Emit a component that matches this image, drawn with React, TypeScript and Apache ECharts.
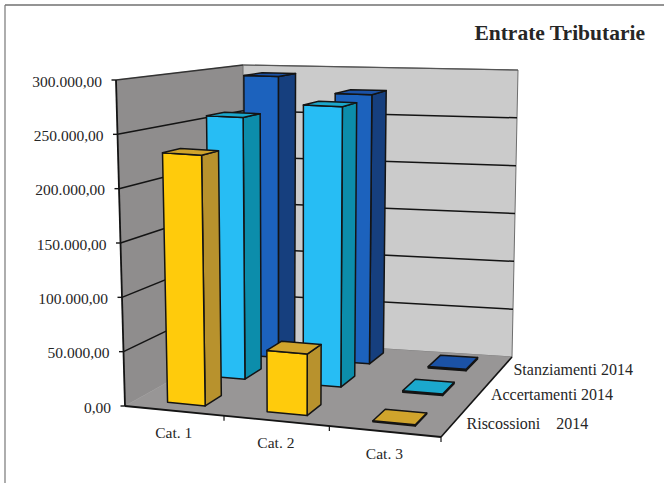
import React, { useEffect, useRef } from "react";
import * as echarts from "echarts";

const categories = ["Cat. 1", "Cat. 2", "Cat. 3"];
const tickValues = [0, 50000, 100000, 150000, 200000, 250000, 300000];
const tickLabels = ["0,00", "50.000,00", "100.000,00", "150.000,00", "200.000,00", "250.000,00", "300.000,00"];
const stanziamentiName = "Stanziamenti 2014";
const accertamentiName = "Accertamenti 2014";
const riscossioniName = "Riscossioni\u00A0\u00A0\u00A0\u00A02014";
const stanziamenti = [293000, 277000, 1500];
const accertamenti = [258500, 273500, 1500];
const riscossioni = [232500, 56500, 1000];
const title = "Entrate Tributarie";

type Pt = [number, number];
const A: Pt = [125, 406], B: Pt = [441, 437], C: Pt = [243, 340], D: Pt = [512, 357];
const E: Pt = [116, 80], H: Pt = [449, 100], F: Pt = [243, 65], G: Pt = [518, 70];
const lerp = (a: Pt, b: Pt, t: number): Pt => [a[0] + (b[0] - a[0]) * t, a[1] + (b[1] - a[1]) * t];
const warp = (u: number) => u + 0.09 * u * (u - 1);
const P = (u0: number, y: number, v: number): Pt => {
  const u = warp(u0);
  const front = lerp(lerp(A, B, u), lerp(E, H, u), y);
  const back = lerp(lerp(C, D, u), lerp(F, G, u), y);
  return lerp(front, back, v);
};

const FONT = "'Liberation Serif', 'Times New Roman', serif";
const INK = "#141414";
const TXT = "#262626";
const poly = (points: Pt[], fill: string, stroke = INK, lineWidth = 1.5) => ({
  type: "polygon",
  shape: { points },
  style: { fill, stroke, lineWidth, lineJoin: "round" },
});
const seg = (a: Pt, b: Pt, stroke = INK, lineWidth = 1.6) => ({
  type: "line",
  shape: { x1: a[0], y1: a[1], x2: b[0], y2: b[1] },
  style: { stroke, lineWidth, fill: "none" },
});
const text = (t: string, x: number, y: number, align: string, size = 15.5) => ({
  type: "text",
  style: { text: t, x, y, align, verticalAlign: "middle", fill: TXT, fontFamily: FONT, fontSize: size },
});

const norm = (params: any, api: any, cat: number, val: number) => {
  const cs = params.coordSys;
  const p = api.coord([cat, val]);
  return { u: (p[0] - cs.x) / cs.width, y: (cs.y + cs.height - p[1]) / cs.height };
};

const barSeries = (
  name: string,
  values: number[],
  vc: number,
  du: number,
  colors: { front: string; side: string; top: string }
) => ({
  type: "custom",
  name,
  coordinateSystem: "cartesian2d",
  data: values.map((v, i) => [i, v]),
  renderItem: (params: any, api: any) => {
    const cs = params.coordSys;
    const cat = api.value(0);
    const { u, y } = norm(params, api, cat, api.value(1));
    const w = (api.size([1, 0])[0] / cs.width) * 0.385;
    const uc = u + du;
    const u0 = uc - w / 2, u1 = uc + w / 2;
    const v0 = vc - 0.075, v1 = vc + 0.075;
    return {
      type: "group",
      children: [
        poly([P(u1, 0, v0), P(u1, 0, v1), P(u1, y, v1), P(u1, y, v0)], colors.side),
        poly([P(u0, 0, v0), P(u1, 0, v0), P(u1, y, v0), P(u0, y, v0)], colors.front),
        poly([P(u0, y, v0), P(u1, y, v0), P(u1, y, v1), P(u0, y, v1)], colors.top),
      ],
    };
  },
});

const App = () => {
  const ref = useRef<HTMLDivElement>(null);
  useEffect(() => {
    const chart = echarts.init(ref.current!, undefined, { renderer: "svg" });
    chart.setOption({
      animation: false,
      backgroundColor: "#ffffff",
      grid: { left: 125, top: 80, width: 316, height: 326 },
      xAxis: { type: "category", data: categories, show: false },
      yAxis: { type: "value", min: 0, max: 300000, interval: 50000, show: false },
      graphic: [
        { type: "line", shape: { x1: 5, y1: 5, x2: 664, y2: 5 }, style: { stroke: "#2b2b2b", lineWidth: 1.2 } },
        { type: "line", shape: { x1: 5, y1: 5, x2: 5, y2: 483 }, style: { stroke: "#777777", lineWidth: 1.2 } },
        {
          type: "text",
          style: { text: title, x: 645, y: 33, align: "right", verticalAlign: "middle", fill: TXT, fontFamily: FONT, fontSize: 21.5, fontWeight: "bold" },
        },
      ],
      series: [
        {
          type: "custom",
          name: "walls",
          coordinateSystem: "cartesian2d",
          data: [[0, 0]],
          renderItem: (params: any, api: any) => {
            const grid: any[] = [];
            tickValues.forEach((t) => {
              const { y } = norm(params, api, 0, t);
              if (t > 0 && t < 300000) {
                grid.push(seg(P(0, y, 0), P(0, y, 1), INK, 1.5));
                grid.push(seg(P(0, y, 1), P(1, y, 1), INK, 1.5));
              }
            });
            return {
              type: "group",
              children: [
                poly([P(0, 0, 0), P(0, 1, 0), P(0, 1, 1), P(0, 0, 1)], "#8f8d8d", "#8f8d8d", 0.5),
                poly([P(0, 0, 1), P(0, 1, 1), P(1, 1, 1), P(1, 0, 1)], "#cbcbcb", "#6e6e6e", 1),
                poly([P(0, 0, 0), P(1, 0, 0), P(1, 0, 1), P(0, 0, 1)], "#989696", "#989696", 0.5),
                ...grid,
                seg(P(0, 1, 0), P(0, 1, 1), "#333333", 1.3),
                seg(P(0, 1, 1), P(1, 1, 1), "#555555", 1.2),
                seg(P(0, 0, 0), P(0, 1, 0), INK, 1.8),
                seg(P(0, 0, 0), P(1, 0, 0), INK, 1.8),
                seg(P(1, 0, 0), P(1, 0, 1), INK, 1.6),
              ],
            };
          },
        },
        barSeries(stanziamentiName, stanziamenti, 0.875, -0.003, { front: "#1c62bd", side: "#163f7e", top: "#1b52a6" }),
        barSeries(accertamentiName, accertamenti, 0.56, -0.001, { front: "#27bdf4", side: "#0c8dab", top: "#1ba8cd" }),
        barSeries(riscossioniName, riscossioni, 0.175, 0.005, { front: "#ffcb0c", side: "#b8922d", top: "#d0a42c" }),
        {
          type: "custom",
          name: "axis labels",
          coordinateSystem: "cartesian2d",
          data: tickValues.map((t, i) => [i, t]),
          renderItem: (params: any, api: any) => {
            const { y } = norm(params, api, 0, api.value(1));
            const p = P(0, y, 0);
            return {
              type: "group",
              children: [
                seg([p[0] - 4.5, p[1]], p, INK, 1.4),
                text(tickLabels[api.value(0)], p[0] - 14, p[1] + 1, "right"),
              ],
            };
          },
        },
        {
          type: "custom",
          name: "category labels",
          coordinateSystem: "cartesian2d",
          data: categories.map((_, i) => [i, 0]),
          renderItem: (params: any, api: any) => {
            const cs = params.coordSys;
            const { u } = norm(params, api, api.value(0), 0);
            const p = P(u, 0, 0);
            const bw = api.size([1, 0])[0] / cs.width;
            const t = P(u + bw / 2, 0, 0);
            return {
              type: "group",
              children: [
                seg(t, [t[0], t[1] + 5], INK, 1.2),
                text(categories[api.value(0)], p[0], p[1] + 22, "center"),
              ],
            };
          },
        },
        {
          type: "custom",
          name: "series labels",
          coordinateSystem: "cartesian2d",
          data: [riscossioniName, accertamentiName, stanziamentiName].map((_, i) => [i, 0]),
          renderItem: (_params: any, api: any) => {
            const i = api.value(0);
            const v = [0.12, 0.52, 0.88][i];
            const p = P(1, 0, v);
            return text([riscossioniName, accertamentiName, stanziamentiName][i], p[0] + [17, 13, 10][i], p[1] + [-4, -1, 3][i], "left", 16);
          },
        },
      ],
    });
    return () => chart.dispose();
  }, []);
  return <div ref={ref} style={{ position: "fixed", left: 0, top: 0, width: 664, height: 483 }} />;
};

export default App;
